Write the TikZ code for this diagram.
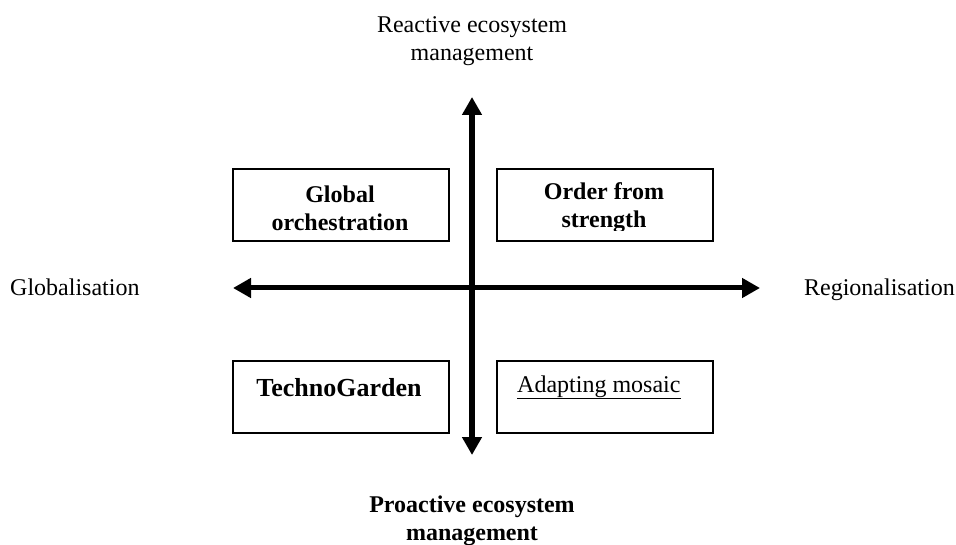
\documentclass[tikz,border=0pt]{standalone}
\usepackage{fontspec}
\setmainfont{Liberation Serif}
\usetikzlibrary{arrows.meta, positioning}

\tikzset{
  quad/.style={draw, line width=1.6pt, minimum width=216pt, minimum height=72pt, anchor=north west, inner sep=0pt},
  axis/.style={line width=6pt, {Triangle[width=19pt,length=18pt]}-{Triangle[width=19pt,length=18pt]}},
  lbl/.style={font=\fontsize{24}{28}\selectfont, align=center, inner sep=0pt},
  blbl/.style={lbl, font=\fontsize{24}{28}\selectfont\bfseries}
}

\begin{document}
\begin{tikzpicture}[x=1pt, y=-1pt]
		\useasboundingbox (0,0) rectangle (956,545);

		% the four scenario boxes
		\node[quad] (gbox) at (232,168) {};
		\node[quad] (obox) at (496,168) {};
		\node[quad] (tbox) at (232,360) {};
		\node[quad] (abox) at (496,360) {};

		\node[blbl] (gtxt) at (340,208) {Global\\orchestration};
		\begin{scope}
			\clip (496,168) rectangle (712,231);
			\node[blbl] (otxt) at (604,208) {Order from\\strength};
		\end{scope}
		\node[blbl, font=\fontsize{26}{30}\selectfont\bfseries] (ttxt) at (339,388) {TechnoGarden};
		\node[lbl, anchor=base west] (atxt) at (517,392) {\underline{Adapting mosaic}};

		% axes
		\coordinate (top) at (472,97);
		\coordinate (bot) at (472,455);
		\coordinate (lft) at (233,288);
		\coordinate (rgt) at (760,288);
		\draw[axis] (bot) -- (top);
		\draw[axis, line width=5pt] (lft) -- (rgt);

		% axis labels
		\node[lbl] (react) at (472,41) {Reactive ecosystem\\management};
		\node[blbl] (proact) at (472,521) {Proactive ecosystem\\management};
		\node[lbl, anchor=base west] (glob) at (10,296) {Globalisation};
		\node[lbl, anchor=base east] (reg) at (955,296) {Regionalisation};
	\end{tikzpicture}
\end{document}
